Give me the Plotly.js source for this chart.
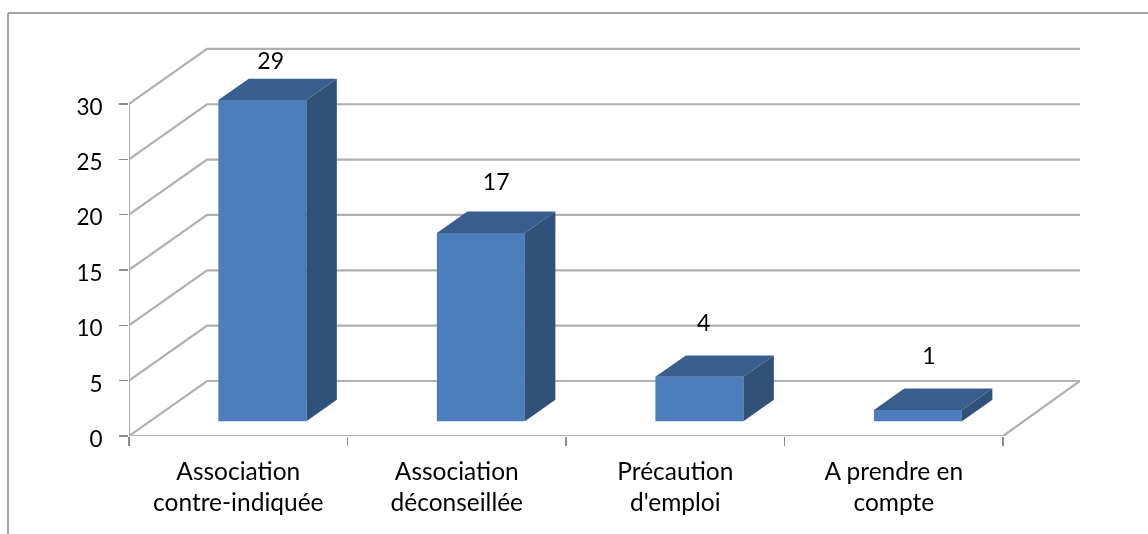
<!DOCTYPE html>
<html><head><meta charset="utf-8">
<script src="https://cdn.plot.ly/plotly-3.0.1.min.js"></script>
<style>html,body{margin:0;padding:0;background:#fff}#chart{width:1148px;height:534px;filter:blur(0.45px)}</style>
</head><body><div id="chart"></div>
<script>
const categories = ["Association<br>contre-indiquée", "Association<br>déconseillée", "Précaution<br>d'emploi", "A prendre en<br>compte"];
const values = [29, 17, 4, 1];
const yTicks = [0, 5, 10, 15, 20, 25, 30];

// 3D projection of the plot box, in axis units
const DX = 0.357, DY = 4.97, XMAX = 4.352, YMAX = 35.14;
const D_FRONT = 0.27, D_BACK = 0.66, BAR_W = 0.403, BAR_SHIFT = 0.014;
// manual label placement, in axis units relative to the bar's back top edge
const labelDX = [0.038, 0.07, 0.02, 0.05];
const labelDY = [1.42, 2.49, 2.76, 2.76];

const proj = (x, y, d) => [x + d * DX, y + d * DY];
const GRID = '#b0b0b0', AXIS = '#8c8c8c';
const traces = [];

// walls and floor
yTicks.forEach(v => {
  traces.push({type:'scatter', mode:'lines', xaxis:'x', yaxis:'y', cliponaxis:false, hoverinfo:'skip',
    x:[0, DX, XMAX], y:[v, v + DY, v + DY], line:{color:GRID, width:2.2}});
});
traces.push({type:'scatter', mode:'lines', xaxis:'x', yaxis:'y', cliponaxis:false, hoverinfo:'skip',
  x:[XMAX, 4, 0], y:[DY, 0, 0], line:{color:GRID, width:2.2}});
traces.push({type:'scatter', mode:'lines', xaxis:'x', yaxis:'y', cliponaxis:false, hoverinfo:'skip',
  x:[0, 0], y:[0, 30], line:{color:GRID, width:2.2}});

// front faces (x position on the floor, before projection)
const floorX = values.map((v, i) => i + 0.5 + BAR_SHIFT);
const centers = floorX.map(x => x + D_FRONT * DX);
traces.push({type:'bar', xaxis:'x2', yaxis:'y2', x:centers, y:values,
  base:values.map(() => D_FRONT * DY), width:BAR_W,
  marker:{color:'#4c7ebb', line:{width:0}}, hoverinfo:'skip'});

// top and side faces
values.forEach((v, i) => {
  const l = floorX[i] - BAR_W / 2, r = floorX[i] + BAR_W / 2;
  const p = [proj(l, v, D_FRONT), proj(r, v, D_FRONT), proj(r, v, D_BACK), proj(l, v, D_BACK)];
  traces.push({type:'scatter', mode:'lines', fill:'toself', xaxis:'x2', yaxis:'y2', hoverinfo:'skip',
    x:p.map(q => q[0]), y:p.map(q => q[1]), fillcolor:'#395e8d', line:{width:0}});
  const s = [proj(r, 0, D_FRONT), proj(r, v, D_FRONT), proj(r, v, D_BACK), proj(r, 0, D_BACK)];
  traces.push({type:'scatter', mode:'lines', fill:'toself', xaxis:'x2', yaxis:'y2', hoverinfo:'skip',
    x:s.map(q => q[0]), y:s.map(q => q[1]), fillcolor:'#315178', line:{width:0}});
});

const FONT = 'Lato, sans-serif';
// value labels
traces.push({type:'scatter', mode:'text', xaxis:'x2', yaxis:'y2', cliponaxis:false, hoverinfo:'skip',
  x:centers.map((c, i) => c + labelDX[i]),
  y:values.map((v, i) => v + D_BACK * DY + labelDY[i]),
  text:values.map(String), textposition:'middle center',
  textfont:{family:FONT, size:23, color:'#000'}});

const boundaries = [0, 1, 2, 3, 4];
const tickCenters = categories.map((c, i) => i + 0.5);

const layout = {
  width:1148, height:534, showlegend:false, paper_bgcolor:'#fff', plot_bgcolor:'rgba(0,0,0,0)',
  margin:{l:129, r:68, t:47, b:98, pad:0}, barmode:'overlay',
  xaxis:{range:[0, XMAX], tickmode:'array', tickvals:boundaries, ticktext:boundaries.map(() => ''),
    ticks:'outside', ticklen:9, tickwidth:1.5, tickcolor:AXIS, showgrid:false, zeroline:false, showline:false},
  yaxis:{range:[0, YMAX], tickmode:'array', tickvals:yTicks, ticktext:yTicks.map(String),
    ticks:'outside', ticklen:9, tickwidth:1.5, tickcolor:AXIS, ticklabelstandoff:12, ticklabelshift:3,
    tickfont:{family:FONT, size:22.5, color:'#000'}, showgrid:false, zeroline:false, showline:false},
  xaxis2:{overlaying:'x', anchor:'y2', side:'bottom', range:[0, XMAX], tickmode:'array', tickvals:tickCenters, ticktext:categories,
    ticks:'', ticklabelstandoff:18, tickangle:0, tickfont:{family:FONT, size:24.5, color:'#000'}, showgrid:false, zeroline:false, showline:false},
  yaxis2:{overlaying:'y', anchor:'x2', side:'left', range:[0, YMAX], showticklabels:false, ticks:'', showgrid:false, zeroline:false, showline:false},
  shapes:[
    {type:'line', xref:'paper', yref:'paper', x0:(8-129)/951, x1:(8-129)/951, y0:(436-534)/389, y1:(436-13)/389, line:{color:'#888', width:1.5}},
    {type:'line', xref:'paper', yref:'paper', x0:(8-129)/951, x1:(1148-129)/951, y0:(436-13)/389, y1:(436-13)/389, line:{color:'#888', width:1.5}}
  ]
};
Plotly.newPlot('chart', traces, layout, {displayModeBar:false, staticPlot:true});
</script></body></html>
